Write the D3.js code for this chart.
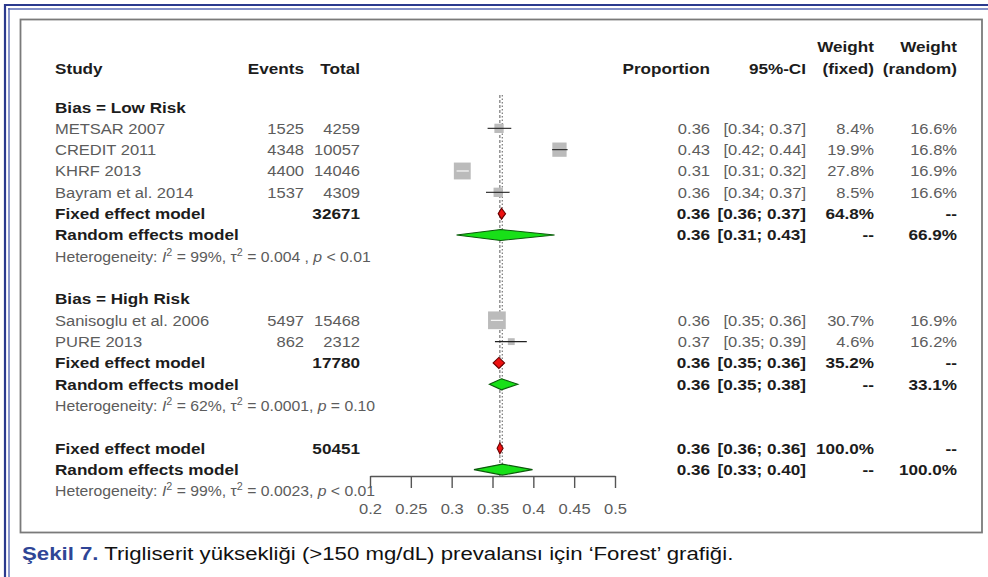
<!DOCTYPE html>
<html>
<head>
<meta charset="utf-8">
<script src="https://cdn.jsdelivr.net/npm/d3@7"></script>
<style>
  html, body { margin: 0; padding: 0; background: #fff; }
  svg { display: block; font-family: "Liberation Sans", Arial, sans-serif; }
</style>
</head>
<body>
<svg id="chart" width="988" height="577"></svg>
<script>
// ---- study-level data ----
const studies      = ["METSAR 2007", "CREDIT 2011", "KHRF 2013", "Bayram et al. 2014", "Sanisoglu et al. 2006", "PURE 2013"];
const studyGroup   = ["Low Risk", "Low Risk", "Low Risk", "Low Risk", "High Risk", "High Risk"];
const events       = [1525, 4348, 4400, 1537, 5497, 862];
const totals       = [4259, 10057, 14046, 4309, 15468, 2312];
const proportions  = [0.358, 0.432, 0.313, 0.357, 0.3554, 0.373];
const ciLower      = [0.344, 0.423, 0.306, 0.342, 0.348, 0.353];
const ciUpper      = [0.373, 0.442, 0.321, 0.371, 0.363, 0.392];
const weightFixed  = [8.4, 19.9, 27.8, 8.5, 30.7, 4.6];
const weightRandom = [16.6, 16.8, 16.9, 16.6, 16.9, 16.2];

// ---- pooled estimates: [Low Risk, High Risk, overall] ----
const summaryGroups   = ["Low Risk", "High Risk", "Overall"];
const fixedTotals     = [32671, 17780, 50451];
const fixedEst        = [0.361, 0.3578, 0.359];
const fixedLower      = [0.357, 0.3508, 0.3556];
const fixedUpper      = [0.366, 0.3648, 0.363];
const fixedWeight     = [64.8, 35.2, 100.0];
const randomEst       = [0.360, 0.361, 0.362];
const randomLower     = [0.306, 0.3462, 0.3273];
const randomUpper     = [0.426, 0.381, 0.399];
const randomWeight    = [66.9, 33.1, 100.0];

// ---- heterogeneity statistics ----
const hetI2   = ["99%", "62%", "99%"];
const hetTau2 = ["0.004 ", "0.0001", "0.0023"];
const hetP    = ["< 0.01", "= 0.10", "< 0.01"];

// ---- axis ----
const axisTicks = [0.2, 0.25, 0.3, 0.35, 0.4, 0.45, 0.5];
const axisTickLabels = ["0.2", "0.25", "0.3", "0.35", "0.4", "0.45", "0.5"];

const svg = d3.select("#chart");
const W = 988, H = 577;

const f2 = d3.format(".2f");
const f1 = d3.format(".1f");

// page frame: double blue rule along the top and left
const blue = "#2b3a8e";
svg.append("line").attr("x1", 4).attr("x2", W).attr("y1", 5).attr("y2", 5).attr("stroke", blue).attr("stroke-width", 2.2);
svg.append("line").attr("x1", 8).attr("x2", W).attr("y1", 9).attr("y2", 9).attr("stroke", "#5a6bb5").attr("stroke-width", 1.4);
svg.append("line").attr("x1", 5).attr("x2", 5).attr("y1", 4).attr("y2", H).attr("stroke", blue).attr("stroke-width", 2.2);
svg.append("line").attr("x1", 9).attr("x2", 9).attr("y1", 8).attr("y2", H).attr("stroke", "#5a6bb5").attr("stroke-width", 1.4);

// figure box
svg.append("rect").attr("x", 20.5).attr("y", 19.5).attr("width", 961.5).attr("height", 513)
  .attr("fill", "#fff").attr("stroke", "#7a7a7a").attr("stroke-width", 1.8);

// caption
const cap = svg.append("text").attr("transform", "translate(22,560) scale(1.2,1)")
  .attr("font-size", 18.5).attr("fill", "#111");
cap.append("tspan").attr("font-weight", "bold").attr("fill", "#2f4596").text("Şekil 7.");
cap.append("tspan").text(" Trigliserit yüksekliği (>150 mg/dL) prevalansı için ‘Forest’ grafiği.");

// ---- layout ----
const FS = 15.3, SX = 1.08, SXB = 1.12;
const grey = "#5c5c5c", dark = "#1c1c1c";
const col = { study: 55, events: 304, total: 360, prop: 710, ci: 806, wf: 874, wr: 957 };

const x = d3.scaleLinear().domain([0.2, 0.5]).range([370, 615]);

function label(g, px, py, s, opt = {}) {
  const sx = opt.sx || (opt.bold ? SXB : SX);
  return g.append("text")
    .attr("transform", `translate(${px},${py}) scale(${sx},1)`)
    .attr("text-anchor", opt.anchor || "start")
    .attr("font-weight", opt.bold ? "bold" : "normal")
    .attr("fill", opt.color || grey)
    .attr("font-size", opt.size || FS)
    .text(s);
}

// assemble table rows
const rows = [];
summaryGroups.forEach((grp, gi) => {
  if (gi < 2) {
    rows.push({ type: "group", text: "Bias = " + grp });
    studies.forEach((s, i) => { if (studyGroup[i] === grp) rows.push({ type: "study", i }); });
  }
  rows.push({ type: "fixed", gi });
  rows.push({ type: "random", gi });
  rows.push({ type: "het", gi });
  if (gi < 2) rows.push({ type: "blank" });
});

const rowY0 = 107, rowH = 21.33;
const yRow = i => rowY0 + i * rowH;
const base = 5.5;

const table = svg.append("g");
const marks = svg.append("g");

// column headers
label(table, col.study, 68 + base, "Study", { bold: true, color: dark });
label(table, col.events, 68 + base, "Events", { bold: true, color: dark, anchor: "end" });
label(table, col.total, 68 + base, "Total", { bold: true, color: dark, anchor: "end" });
label(table, col.prop, 68 + base, "Proportion", { bold: true, color: dark, anchor: "end" });
label(table, col.ci, 68 + base, "95%-CI", { bold: true, color: dark, anchor: "end" });
label(table, col.wf, 46 + base, "Weight", { bold: true, color: dark, anchor: "end" });
label(table, col.wf, 68 + base, "(fixed)", { bold: true, color: dark, anchor: "end" });
label(table, col.wr, 46 + base, "Weight", { bold: true, color: dark, anchor: "end" });
label(table, col.wr, 68 + base, "(random)", { bold: true, color: dark, anchor: "end" });

// reference lines at the pooled overall estimates
const axisY = 476;
[[fixedEst[2], "3,2"], [randomEst[2], "1.5,2"]].forEach(([v, dash]) => {
  marks.append("line")
    .attr("x1", x(v)).attr("x2", x(v)).attr("y1", 95).attr("y2", axisY)
    .attr("stroke", "#777").attr("stroke-width", 1.2).attr("stroke-dasharray", dash);
});

const ciText = (lo, hi) => `[${f2(lo)}; ${f2(hi)}]`;
const diamondH = 5.5;
function diamond(cy, est, lo, hi, fill, stroke) {
  const pts = [[x(lo), cy], [x(est), cy - diamondH], [x(hi), cy], [x(est), cy + diamondH]];
  marks.append("polygon").attr("points", pts.map(p => p.join(",")).join(" "))
    .attr("fill", fill).attr("stroke", stroke).attr("stroke-width", 1.1);
}

rows.forEach((r, ri) => {
  const cy = yRow(ri), ty = cy + base;
  if (r.type === "group") {
    label(table, col.study, ty, r.text, { bold: true, color: dark });
  } else if (r.type === "study") {
    const i = r.i;
    label(table, col.study, ty, studies[i]);
    label(table, col.events, ty, events[i], { anchor: "end" });
    label(table, col.total, ty, totals[i], { anchor: "end" });
    label(table, col.prop, ty, f2(proportions[i]), { anchor: "end" });
    label(table, col.ci, ty, ciText(ciLower[i], ciUpper[i]), { anchor: "end" });
    label(table, col.wf, ty, f1(weightFixed[i]) + "%", { anchor: "end" });
    label(table, col.wr, ty, f1(weightRandom[i]) + "%", { anchor: "end" });

    const side = 3.2 * Math.sqrt(weightFixed[i]);
    const cx = x(proportions[i]);
    marks.append("rect").attr("x", cx - side / 2).attr("y", cy - side / 2)
      .attr("width", side).attr("height", side).attr("fill", "#bbbbbb");
    const inside = x(ciLower[i]) > cx - side / 2 && x(ciUpper[i]) < cx + side / 2;
    marks.append("line").attr("x1", x(ciLower[i])).attr("x2", x(ciUpper[i]))
      .attr("y1", cy).attr("y2", cy)
      .attr("stroke", inside ? "#ffffff" : "#222").attr("stroke-width", 1.1);
  } else if (r.type === "fixed") {
    const g = r.gi;
    label(table, col.study, ty, "Fixed effect model", { bold: true, color: dark });
    label(table, col.total, ty, fixedTotals[g], { bold: true, color: dark, anchor: "end" });
    label(table, col.prop, ty, f2(fixedEst[g]), { bold: true, color: dark, anchor: "end" });
    label(table, col.ci, ty, ciText(fixedLower[g], fixedUpper[g]), { bold: true, color: dark, anchor: "end" });
    label(table, col.wf, ty, f1(fixedWeight[g]) + "%", { bold: true, color: dark, anchor: "end" });
    label(table, col.wr, ty, "--", { bold: true, color: dark, anchor: "end" });
    diamond(cy, fixedEst[g], fixedLower[g], fixedUpper[g], "#ee1111", "#6a0000");
  } else if (r.type === "random") {
    const g = r.gi;
    label(table, col.study, ty, "Random effects model", { bold: true, color: dark });
    label(table, col.prop, ty, f2(randomEst[g]), { bold: true, color: dark, anchor: "end" });
    label(table, col.ci, ty, ciText(randomLower[g], randomUpper[g]), { bold: true, color: dark, anchor: "end" });
    label(table, col.wf, ty, "--", { bold: true, color: dark, anchor: "end" });
    label(table, col.wr, ty, f1(randomWeight[g]) + "%", { bold: true, color: dark, anchor: "end" });
    diamond(cy, randomEst[g], randomLower[g], randomUpper[g], "#18e018", "#0b5a0b");
  } else if (r.type === "het") {
    const g = r.gi;
    const t = label(table, col.study, ty, "", { size: 14.6 });
    t.append("tspan").text("Heterogeneity: ");
    t.append("tspan").attr("font-style", "italic").text("I");
    t.append("tspan").attr("dy", -6).attr("font-size", 10).text("2");
    t.append("tspan").attr("dy", 6).text(` = ${hetI2[g]}, τ`);
    t.append("tspan").attr("dy", -6).attr("font-size", 10).text("2");
    t.append("tspan").attr("dy", 6).text(` = ${hetTau2[g]}, `);
    t.append("tspan").attr("font-style", "italic").text("p");
    t.append("tspan").text(" " + hetP[g]);
  }
});

// x axis
const axis = d3.axisBottom(x)
  .tickValues(axisTicks)
  .tickFormat((d, i) => axisTickLabels[i])
  .tickSize(12).tickSizeOuter(0).tickPadding(15);
const ag = svg.append("g").attr("transform", `translate(0,${axisY})`).call(axis);
ag.select(".domain").attr("stroke", "#555").attr("stroke-width", 1.4);
ag.selectAll(".tick line").attr("stroke", "#555").attr("stroke-width", 1.4);
ag.selectAll(".tick text")
  .attr("font-family", "Liberation Sans, Arial, sans-serif")
  .attr("font-size", FS).attr("fill", grey)
  .attr("transform", `scale(${SX},1)`);
</script>
</body>
</html>
